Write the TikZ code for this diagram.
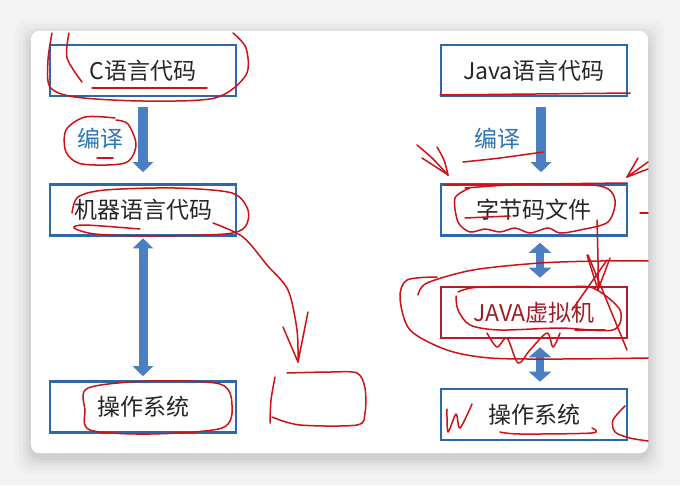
\documentclass[tikz,border=0pt]{standalone}
\usepackage{fontspec}
\setmainfont{Noto Sans CJK SC}
\usetikzlibrary{arrows.meta}
\definecolor{boxblue}{HTML}{2C69A6}
\definecolor{arrblue}{HTML}{4A80C2}
\definecolor{txtblue}{HTML}{2E75B6}
\definecolor{jvmred}{HTML}{B0202A}
\definecolor{ink}{HTML}{CC1216}
\definecolor{bg}{HTML}{F3F3F3}
\tikzset{
  stepbox/.style={draw=boxblue, line width=2.6pt, fill=white, minimum width=186pt, minimum height=51pt, inner sep=0pt, font=\fontsize{23}{26}\selectfont, text=black!85},
  jvmbox/.style={stepbox, draw=jvmred, text=jvmred!90!black},
  lbl/.style={font=\fontsize{23}{26}\selectfont, text=txtblue},
  down/.style={arrblue, line width=9.5pt, -{Triangle[width=20pt,length=10pt]}},
  both/.style={arrblue, line width=9pt, {Triangle[width=20pt,length=10pt]}-{Triangle[width=20pt,length=10pt]}},
  bothsmall/.style={arrblue, line width=8pt, {Triangle[width=22pt,length=10pt]}-{Triangle[width=22pt,length=10pt]}},
  pen/.style={draw=ink, line width=1.5pt, line cap=round, line join=round}
}
\begin{document}
\begin{tikzpicture}[x=1pt,y=-1pt]
\useasboundingbox (0,0) rectangle (680,485);
\fill[bg] (0,0) rectangle (680,485);
% shadow
\foreach \d/\o in {16/0.015,12/0.02,8/0.03,5/0.035,2/0.04}{
  \fill[black,opacity=\o,rounded corners=12pt] (31-\d,31-\d+5) rectangle (648+\d,453+\d+5);
}
\fill[white,rounded corners=8pt] (31,31) rectangle (648,453);

% left column
\node[stepbox] (c) at (143,70.5) {C语言代码};
\node[stepbox] (mc) at (143,210) {机器语言代码};
\node[stepbox] (os1) at (143,407) {操作系统};
\node[lbl] (by1) at (100,139) {编译};
\draw[down, shorten <=10pt, shorten >=11pt] (c.south) -- (mc.north);
\draw[both, shorten <=1.5pt, shorten >=4pt] (mc.south) -- (os1.north);

% right column
\node[stepbox] (java) at (534,70.5) {Java语言代码};
\node[stepbox] (bc) at (534,210) {字节码文件};
\node[jvmbox] (jvm) at (534,312.5) {JAVA虚拟机};
\node[stepbox] (os2) at (534,414.5) {操作系统};
\node[lbl] (by2) at (497,139) {编译};
\draw[down, shorten <=10pt, shorten >=11pt] ([xshift=7pt]java.south) -- ([xshift=7pt]bc.north);
\draw[bothsmall, shorten <=6pt, shorten >=8pt] ([xshift=6pt]bc.south) -- ([xshift=6pt]jvm.north);
\draw[bothsmall, shorten <=8pt, shorten >=6pt] ([xshift=6pt]jvm.south) -- ([xshift=6pt]os2.north);

% ---- red annotations ----
% C code loop
\draw[pen] plot[smooth] coordinates {(52,33) (48,60) (50,87) (75,97) (143,101) (215,98) (246,75) (246,48) (233,33)};
\draw[pen] plot[smooth] coordinates {(82,82) (67,58) (69,33)};
\draw[pen] (92,88) -- (207,88);
% bianyi loop
\draw[pen] plot[smooth] coordinates {(115,118) (85,117) (66,130) (66,152) (82,164) (125,163) (136,145) (128,124) (116,120)};
\draw[pen] (97,158) -- (113,158);
% machine code loop
\draw[pen] plot[smooth] coordinates {(72,213) (78,197) (105,190) (175,188) (232,193) (248,210) (245,227) (225,234) (150,236) (95,234) (74,228) (85,225) (140,229)};
\draw[pen] plot[smooth] coordinates {(213,223) (243,237) (267,265) (288,290) (297,330) (298,362)};
\draw[pen] (283,327) -- (298,362) -- (308,312);
% small box
\draw[pen] plot[smooth] coordinates {(275,377) (271,400) (270,423)};
\draw[pen] plot[smooth] coordinates {(287,373) (330,372) (357,373) (365,388) (365,413) (357,425) (300,425) (272,417)};
% OS left loop
\draw[pen] plot[smooth cycle] coordinates {(88,388) (150,381) (220,384) (232,405) (222,428) (150,434) (90,430) (85,410)};
% Java underline
\draw[pen] (440,95) -- (630,93);
% bianyi underline right
\draw[pen] plot[smooth] coordinates {(463,162) (500,158) (543,152)};
% arrow marks
\draw[pen] plot[smooth] coordinates {(417,145) (432,158) (448,175)};
\draw[pen] plot[smooth] coordinates {(422,158) (436,167) (448,175)};
\draw[pen] plot[smooth] coordinates {(437,147) (444,160) (448,175)};
\draw[pen] (627,177) -- (638,158);
\draw[pen] (627,177) -- (648,162);
\draw[pen] (627,177) -- (648,169);
\draw[pen] (640,213) -- (648,213);
% bytecode loop
\draw[pen] (445,185) -- (627,183);
\draw[pen] plot[smooth] coordinates {(465,188) (530,184) (600,186) (615,200) (608,222) (580,230) (560,233) (548,228) (530,233) (515,228) (500,232) (485,229) (470,232) (458,222) (455,198) (470,188)};
\draw[pen] (465,218) -- (510,216);
\draw[pen] plot[smooth] coordinates {(597,220) (598,260) (598,290)};
\draw[pen] (587,255) -- (598,290) -- (610,258);
% JVM big loop
\draw[pen] plot[smooth] coordinates {(437,277) (407,280) (400,298) (410,330) (447,350) (490,358) (560,359) (648,358)};
\draw[pen] plot[smooth] coordinates {(418,295) (427,283) (473,270) (540,263) (600,261) (648,261)};
\draw[pen] plot[smooth] coordinates {(458,292) (480,287) (560,287) (593,288) (620,310) (613,330) (560,328) (500,330) (470,325) (458,310) (456,296)};
\draw[pen] (588,255) -- (627,350);
\draw[pen] (607,260) -- (572,310);
\draw[pen] plot[smooth] coordinates {(487,333) (497,347) (507,338) (518,363) (530,350) (547,333) (553,347) (560,333)};
\draw[pen] (575,330) -- (605,330);
% OS right
\draw[pen] plot[smooth] coordinates {(447,409) (448,432) (456,414) (460,428) (472,404)};
\draw[pen] plot[smooth] coordinates {(500,432) (520,434) (592,433) (592,428)};
\draw[pen] plot[smooth] coordinates {(625,406) (613,420) (615,432) (630,438) (648,441)};
\end{tikzpicture}
\end{document}
